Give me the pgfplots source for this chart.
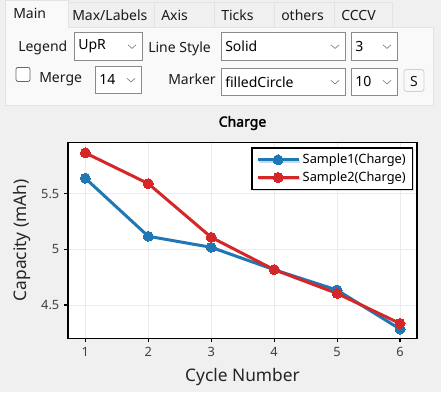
\documentclass[border=0pt]{standalone}
\usepackage{pgfplots}
\pgfplotsset{compat=1.18}
\usepackage{fontspec}
\setmainfont{Noto Sans}
\newfontfamily\titlefont[AutoFakeBold=2.2]{Noto Sans}
\usetikzlibrary{shadows}
\definecolor{bg}{HTML}{F0F0F0}
\definecolor{panelbg}{HTML}{F9F9F9}
\definecolor{panelborder}{HTML}{E3E3E3}
\definecolor{tabbg}{HTML}{F0F0F0}
\definecolor{comboborder}{HTML}{8A8A8A}
\definecolor{uitext}{HTML}{1A1A1A}
\definecolor{c1}{HTML}{1F77B4}
\definecolor{c2}{HTML}{D62728}
\newcommand{\uifont}{\fontsize{10.5}{12}\selectfont}
\newcommand{\combo}[5]{%
  \filldraw[fill=white,draw=comboborder,line width=0.6pt] (#1,#2) rectangle (#3,#4);
  \node[anchor=west,inner sep=0pt,font=\uifont,text=black] at ({#1+4},{(#2+#4)/2}) {#5};
  \draw[gray,line width=0.5pt] ({#3-14},{(#2+#4)/2-1.5}) -- ({#3-10},{(#2+#4)/2+2}) -- ({#3-6},{(#2+#4)/2-1.5});
}
\pgfplotstableread{
x y
1 5.638
2 5.117
3 5.018
4 4.817
5 4.634
6 4.284
}\sampleone
\pgfplotstableread{
x y
1 5.866
2 5.590
3 5.108
4 4.817
5 4.604
6 4.334
}\sampletwo
\begin{document}
\begin{tikzpicture}[x=0.75pt,y=-0.75pt]
\fill[bg] (0,0) rectangle (441,392);
% tabs
\foreach \a/\b in {68/154,154/214,214/274,274/334,334/392}{
  \filldraw[fill=tabbg,draw=panelborder,line width=0.6pt] (\a,2) rectangle (\b,27);
}
\node[anchor=west,inner sep=0pt,font=\uifont,text=uitext] at (72,15) {Max/Labels};
\node[anchor=west,inner sep=0pt,font=\uifont,text=uitext] at (161,15) {Axis};
\node[anchor=west,inner sep=0pt,font=\uifont,text=uitext] at (221,15) {Ticks};
\node[anchor=west,inner sep=0pt,font=\uifont,text=uitext] at (281,15) {others};
\node[anchor=west,inner sep=0pt,font=\uifont,text=uitext] at (341,15) {CCCV};
% panel
\filldraw[fill=panelbg,draw=panelborder,line width=0.6pt] (5,27) rectangle (433,105);
\filldraw[fill=panelbg,draw=panelborder,line width=0.6pt] (5,0) rectangle (68,27);
\fill[panelbg] (5.5,25) rectangle (67.5,28.5);
\node[anchor=west,inner sep=0pt,font=\uifont,text=uitext] at (13,13) {Main};
% row 1
\node[anchor=west,inner sep=0pt,font=\uifont,text=uitext] at (18,47) {Legend};
\combo{74}{32}{142}{60}{UpR}
\node[anchor=west,inner sep=0pt,font=\uifont,text=uitext] at (148,48) {Line Style};
\combo{221}{32}{345}{60}{Solid}
\combo{351}{32}{397}{60}{3}
% row 2
\filldraw[fill=white,draw=gray!80!black,line width=0.6pt,rounded corners=1.5pt] (16,67) rectangle (30,81);
\node[anchor=west,inner sep=0pt,font=\uifont,text=uitext] at (39,79) {Merge};
\combo{95}{66}{141}{93}{14}
\node[anchor=west,inner sep=0pt,font=\uifont,text=uitext] at (168,79) {Marker};
\combo{221}{68}{345}{95}{filledCircle}
\combo{351}{68}{397}{95}{10}
\filldraw[fill=panelbg,draw=panelborder!80!gray,line width=0.6pt,rounded corners=2pt] (404,69) rectangle (424,91);
\node[inner sep=0pt,font=\uifont,text=uitext] at (414,81) {S};
% chart
\begin{axis}[
  at={(51pt,-253.5pt)}, anchor=south west,
  scale only axis, width=261.75pt, height=147pt,
  xmin=0.725, xmax=6.27, ymin=4.2, ymax=5.96,
  xtick={1,2,3,4,5,6}, ytick={4.5,5,5.5},
  yticklabels={4.5,5,5.5},
  tick pos=left, tick align=outside, major tick length=3pt,
  grid=major, grid style={draw=black!8, line width=0.6pt},
  axis line style={line width=1.1pt},
  tick style={black,line width=0.8pt},
  axis background/.style={fill=white},
  ticklabel style={font=\fontsize{9.6}{11}\selectfont, text=black!75},
  /pgf/number format/assume math mode=true,
  title={Charge},
  title style={at={(axis description cs:0.5,1.058)}, anchor=center, yshift=0pt, font=\titlefont\bfseries\fontsize{10.5}{12}\selectfont},
  xlabel={Cycle Number},
  xlabel style={at={(axis description cs:0.5,-0.195)}, anchor=center, font=\fontsize{13}{15}\selectfont, text=black!85},
  ylabel={Capacity (mAh)},
  ylabel style={at={(axis description cs:-0.131,0.5)}, anchor=center, font=\fontsize{13}{15}\selectfont, text=black!85},
  legend style={at={(axis description cs:1,1)}, anchor=north east, xshift=-3pt, yshift=-3.7pt,
    draw=black, line width=0.9pt, fill=white, font=\fontsize{9.6}{11}\selectfont,
    drop shadow={shadow xshift=1pt, shadow yshift=-1pt, opacity=0.25},
    inner xsep=3pt, inner ysep=2.5pt, row sep=0.5pt},
  legend cell align=left,
  legend image code/.code={\draw[mark repeat=2,mark phase=2,#1] plot coordinates {(0cm,0cm) (0.54cm,0cm) (1.08cm,0cm)};},
]
\addplot[c1, line width=2.25pt, mark=*, mark size=3.75pt, mark options={solid,line width=0pt}] table[x=x,y=y] {\sampleone};
\addlegendentry{Sample1(Charge)}
\addplot[c2, line width=2.25pt, mark=*, mark size=3.75pt, mark options={solid,line width=0pt}] table[x=x,y=y] {\sampletwo};
\addlegendentry{Sample2(Charge)}
\end{axis}
\end{tikzpicture}
\end{document}
